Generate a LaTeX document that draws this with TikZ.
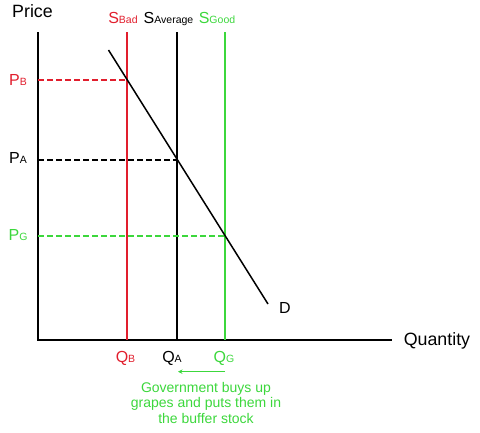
\documentclass[tikz,border=0pt]{standalone}
\usepackage{fontspec}
\setmainfont{Liberation Sans}
\usetikzlibrary{arrows.meta}
\definecolor{badclr}{RGB}{225,30,45}
\definecolor{goodclr}{RGB}{60,215,60}
\newcommand{\lbl}[2]{#1{\fontsize{10.5}{10.5}\selectfont #2}}
\tikzset{
    axis/.style={line width=1.5pt},
    supply/.style={line width=1.5pt},
    demand/.style={line width=1.5pt},
    guide/.style={line width=2pt,dash pattern=on 5.5pt off 3.5pt},
    big/.style={font=\fontsize{17.8}{17.8}\selectfont,anchor=base,inner sep=0pt},
    tag/.style={font=\fontsize{16}{16}\selectfont,anchor=base,inner sep=0pt},
    note/.style={font=\fontsize{14}{15.6}\selectfont,align=center,
                 text=goodclr,anchor=base,inner sep=0pt},
}
\begin{document}
\begin{tikzpicture}[x=1pt,y=-1pt]
\useasboundingbox (0,0) rectangle (480,432);
% axes
\coordinate (O) at (38,340);
\coordinate (ytop) at (38,32);
\coordinate (xend) at (392,340);
\draw[axis] (ytop) -- (O) -- (xend);
\node[big] (price) at (32.5,17.5) {Price};
\node[big] (qty) at (437,345.5) {Quantity};

% supply curves
\coordinate (sbtop) at (127,32);
\coordinate (sbbot) at (127,340);
\coordinate (satop) at (177,32);
\coordinate (sabot) at (177,340);
\coordinate (sgtop) at (225,32);
\coordinate (sgbot) at (225,340);
\draw[supply,badclr] (sbtop) -- (sbbot);
\draw[supply] (satop) -- (sabot);
\draw[supply,goodclr] (sgtop) -- (sgbot);
\node[tag,text=badclr] (sbad) at (123,23.3) {\lbl{S}{Bad}};
\node[tag] (savg) at (168.5,23.3) {\lbl{S}{Average}};
\node[tag,text=goodclr] (sgood) at (217,23.3) {\lbl{S}{Good}};

% demand
\coordinate (dtop) at (108.5,50);
\coordinate (dbot) at (268,304);
\draw[demand] (dtop) -- (dbot);
\node[tag] (d) at (285,313.5) {D};

% equilibria
\coordinate (eb) at (127,79.5);
\coordinate (ea) at (177,159.5);
\coordinate (eg) at (225,235.5);
\coordinate (pbax) at (38,79.5);
\coordinate (paax) at (38,159.5);
\coordinate (pgax) at (38,235.5);
\draw[guide,badclr] (pbax) -- (eb);
\draw[guide] (paax) -- (ea);
\draw[guide,goodclr] (pgax) -- (eg);
\node[tag,text=badclr] (pb) at (18,85.3) {\lbl{P}{B}};
\node[tag] (pa) at (18,163.3) {\lbl{P}{A}};
\node[tag,text=goodclr] (pg) at (18,240) {\lbl{P}{G}};
\node[tag,text=badclr] (qb) at (125.5,362.3) {\lbl{Q}{B}};
\node[tag] (qa) at (172,362.3) {\lbl{Q}{A}};
\node[tag,text=goodclr] (qg) at (224,362.3) {\lbl{Q}{G}};

% buffer stock
\coordinate (arrs) at (225,371.7);
\coordinate (arre) at (178,371.7);
\draw[line width=0.9pt,goodclr,-{Stealth[length=4.5pt,width=4.5pt]}] (arrs) -- (arre);
\node[note] (note) at (206,423.3) {Government buys up\\grapes and puts them in\\the buffer stock};
\end{tikzpicture}
\end{document}
